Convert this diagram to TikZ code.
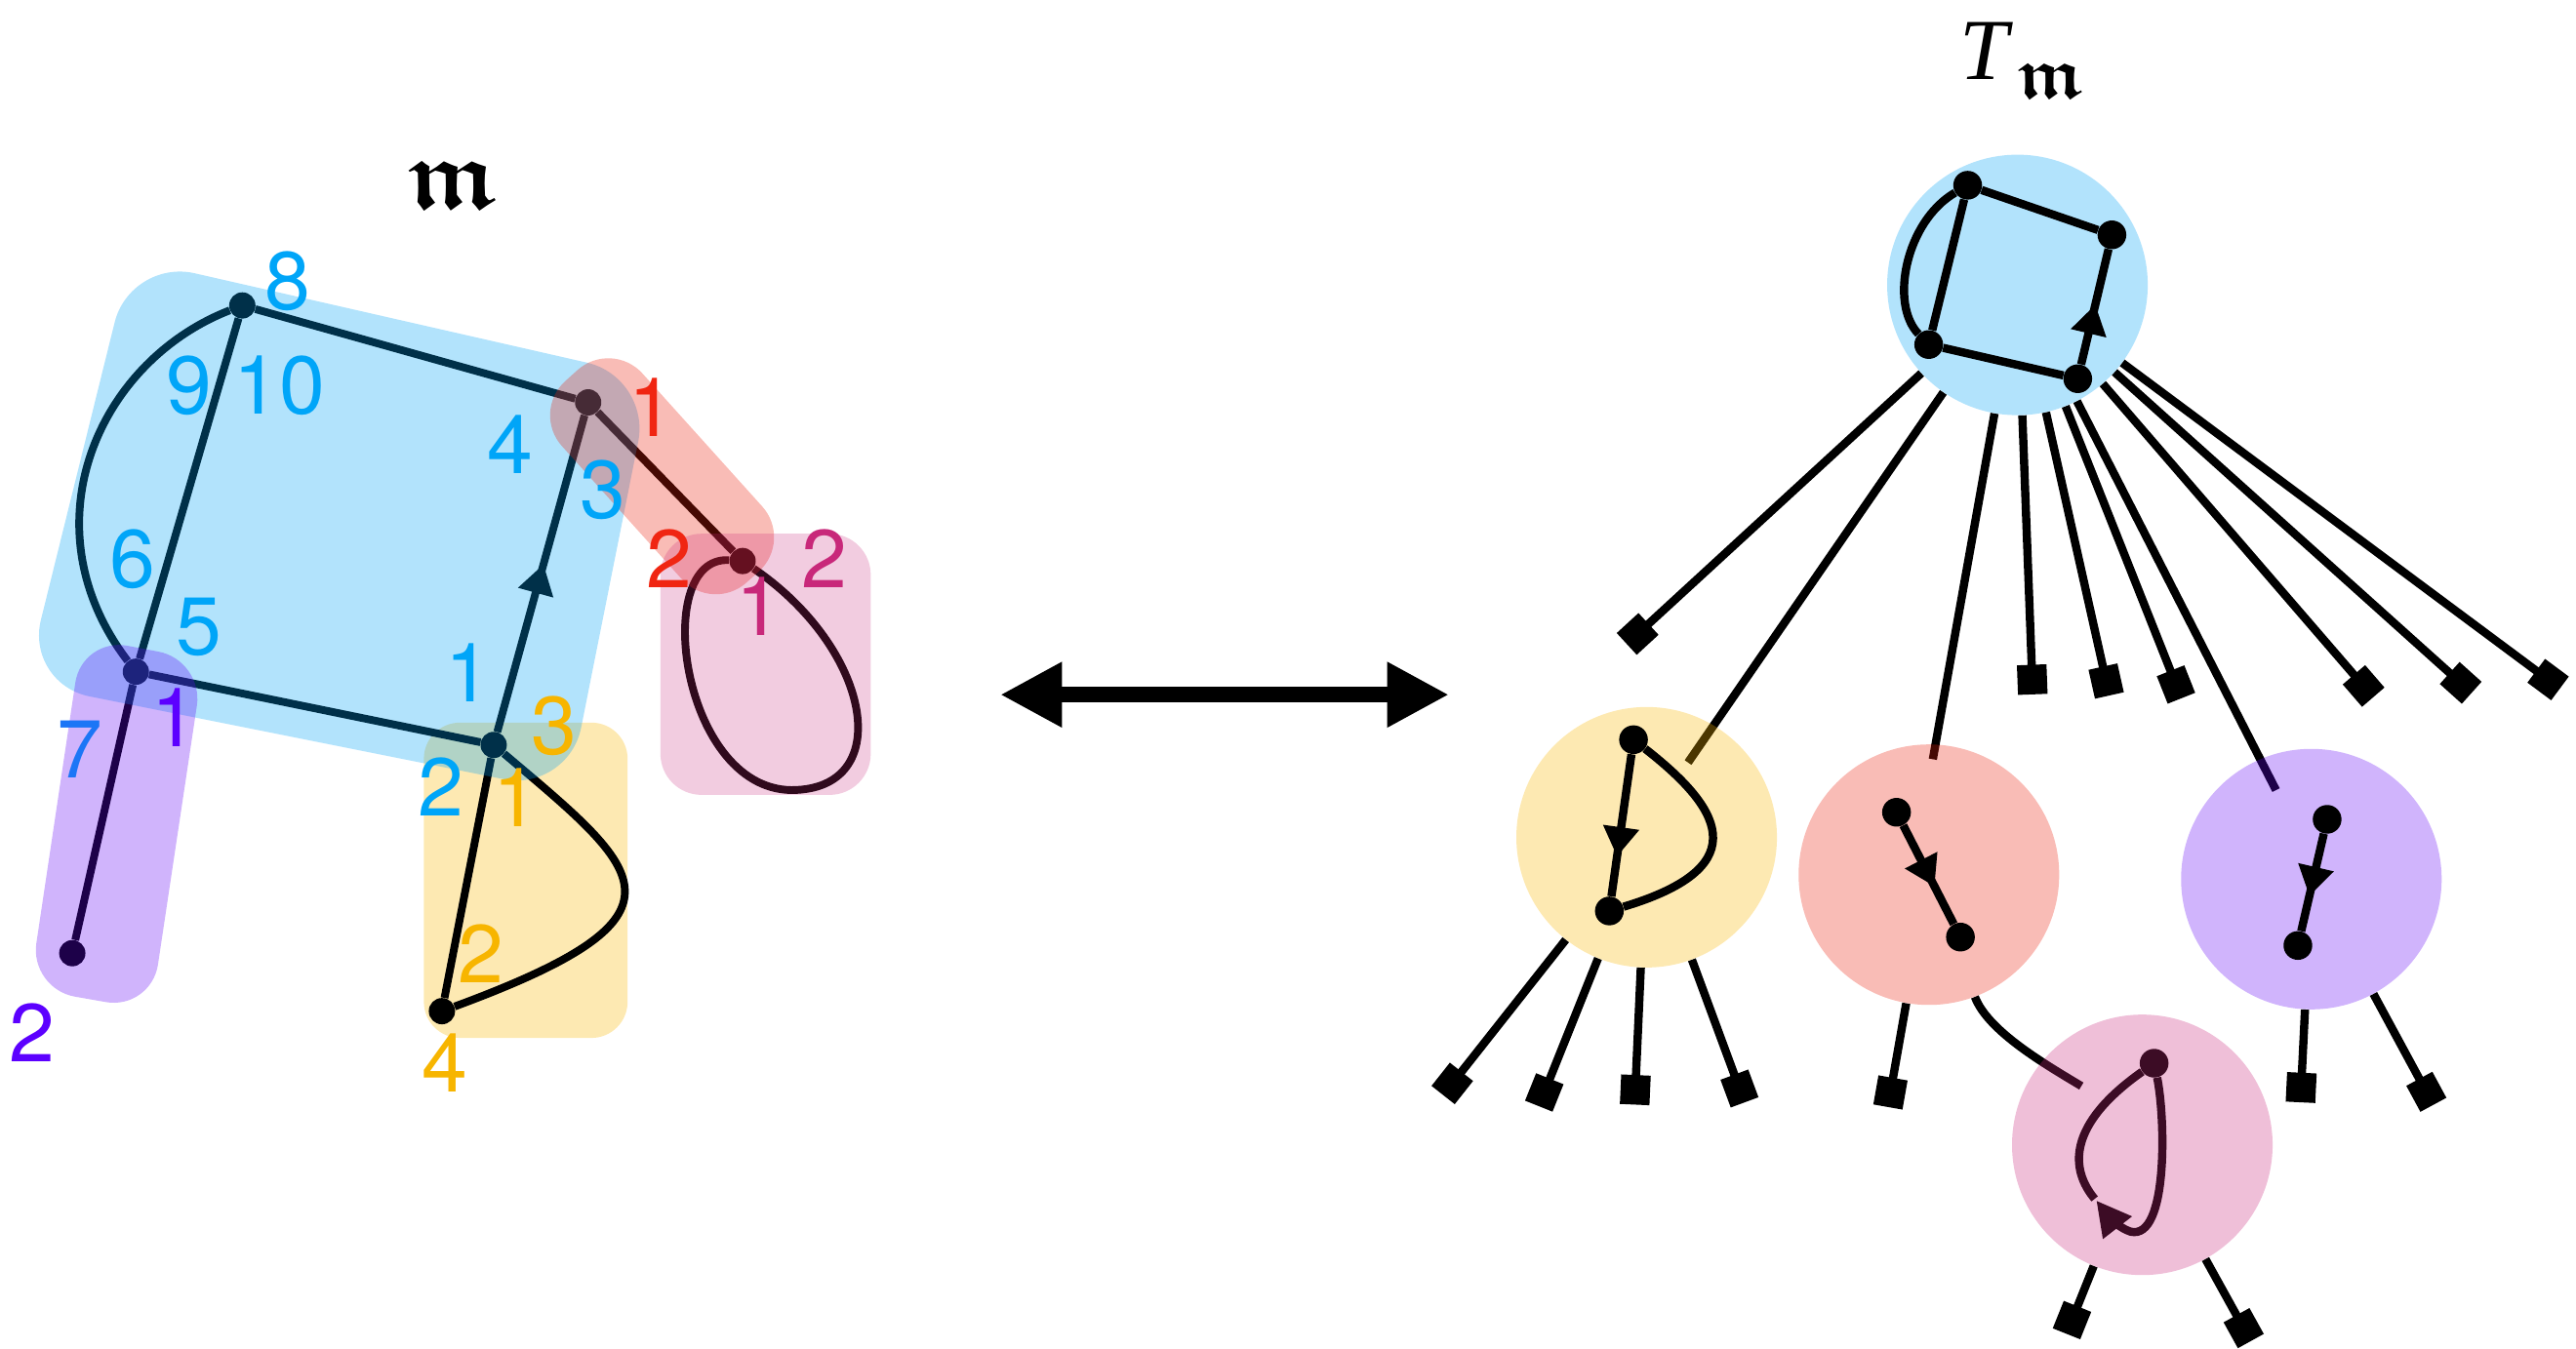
\documentclass[tikz,border=0pt]{standalone}
\usepackage{fontspec}
\setmainfont{TeX Gyre Heros}
\newfontfamily\timesf{Liberation Serif}
\DeclareFontFamily{U}{euf}{}
\DeclareFontShape{U}{euf}{m}{n}{<-> eufm10}{}
\DeclareFontShape{U}{euf}{b}{n}{<-> eufb10}{}
\usetikzlibrary{arrows.meta,decorations.markings}
\definecolor{cblue}{RGB}{0,162,245}
\definecolor{cyel}{RGB}{250,182,0}
\definecolor{cred}{RGB}{235,32,12}
\definecolor{cpink}{RGB}{202,42,125}
\definecolor{cpur}{RGB}{98,5,245}
\definecolor{lblue}{RGB}{0,165,248}
\definecolor{lmix}{RGB}{28,118,246}
\definecolor{lyel}{RGB}{247,181,0}
\definecolor{lred}{RGB}{240,38,18}
\definecolor{lpink}{RGB}{200,40,122}
\definecolor{lpur}{RGB}{92,0,255}
\begin{document}
\begin{tikzpicture}[x=1pt,y=-1pt,
  vtx/.style={circle,fill=black,inner sep=0pt,minimum size=16pt},
  tvtx/.style={circle,fill=black,inner sep=0pt,minimum size=17.5pt},
  edge/.style={line width=4.7pt},
  tedge/.style={line width=5pt},
  leaf/.style={line width=5pt,-{Square[length=18pt,width=18pt]},shorten >=-9pt},
  midarrow/.style={postaction={decorate},decoration={markings,mark=at position #1 with {\arrow{Triangle[length=18pt,width=21pt]}}}},
  midarrow/.default=0.55,
  tnode/.style={circle,inner sep=0pt,minimum size=158.6pt},
  lab/.style={inner sep=0pt,font=\fontsize{50}{50}\selectfont},
  boxfill/.style={fill=#1,fill opacity=0.3}
]
\useasboundingbox (0,0) rectangle (1568,821);

% ---------------- left map ----------------
\fill[boxfill=cyel,rounded corners=22pt] (258,440) rectangle (382,632);

\node[vtx] (A) at (147.5,186) {};
\node[vtx] (B) at (358,245) {};
\node[vtx] (C) at (82.7,409) {};
\node[vtx] (D) at (300.5,453.6) {};
\node[vtx] (E) at (452,341.6) {};
\node[vtx] (F) at (44,580.4) {};
\node[vtx] (G) at (269,615.7) {};

\draw[edge] (A) -- (B);
\draw[edge] (A) -- (C);
\draw[edge] (A) .. controls (60,220) and (15,320) .. (C);
\draw[edge] (C) -- (D);
\draw[edge,midarrow=0.53] (D) -- (B);
\draw[edge] (B) -- (E);
\draw[edge] (E) .. controls (395,338) and (415,485) .. (485,481) .. controls (545,478) and (530,395) .. (E);
\draw[edge] (C) -- (F);
\draw[edge] (D) -- (G);
\draw[edge] (D) .. controls (392,531) and (427.8,557.2) .. (G);

\fill[boxfill=cblue,rounded corners=40pt] (79.4,157.5) -- (396.3,229.7) -- (345.9,482.3) -- (15.3,416.2) -- cycle;
\fill[boxfill=cred,rounded corners=28pt] (323.3,250.8) -- (372.3,206.6) -- (482.7,329.2) -- (433.7,373.4) -- cycle;
\fill[fill=cpink,fill opacity=0.24,rounded corners=25pt] (402,325) rectangle (530,484);
\fill[boxfill=cpur,rounded corners=28pt] (50,388) -- (124,402) -- (92,615) -- (18,602) -- cycle;

% labels
\node[lab,text=lblue] (l8) at (175.4,171) {8};
\node[lab,text=lblue] (l9) at (115,235) {9};
\node[lab,text=lblue] (l10) at (170.2,235) {10};
\node[lab,text=lblue] (l6) at (80.8,340.2) {6};
\node[lab,text=lblue] (l5) at (121.2,382) {5};
\node[lab,text=lmix] (l7) at (48.9,456.4) {7};
\node[lab,text=lblue] (l4) at (310.4,270.7) {4};
\node[lab,text=lblue] (l3) at (367,298.2) {3};
\node[lab,text=lblue] (lb1) at (285,409.6) {1};
\node[lab,text=lblue] (lb2) at (268.2,479.1) {2};
\node[lab,text=lpur] (lu1) at (106,437) {1};
\node[lab,text=lpur] (lu2) at (19.7,628.5) {2};
\node[lab,text=lyel] (ly3) at (337,442) {3};
\node[lab,text=lyel] (ly1) at (314,485.6) {1};
\node[lab,text=lyel] (ly2) at (293,580.8) {2};
\node[lab,text=lyel] (ly4) at (270.8,647) {4};
\node[lab,text=lred] (lr1) at (396.7,248) {1};
\node[lab,text=lred] (lr2) at (407.5,340.2) {2};
\node[lab,text=lpink] (lp2) at (502,340.2) {2};
\node[lab,text=lpink] (lp1) at (462,369.3) {1};

\node[inner sep=0pt,anchor=base west,font=\fontsize{60}{60}\usefont{U}{euf}{b}{n}] (mlab) at (248,126.7) {m};

% ---------------- double arrow ----------------
\coordinate (arrL) at (608.8,423);
\coordinate (arrR) at (882,423);
\draw[line width=9.5pt,{Triangle[length=37.6pt,width=37.2pt]}-{Triangle[length=37.6pt,width=37.2pt]}] (arrL) -- (arrR);

% ---------------- tree ----------------
\node[inner sep=0pt,anchor=base west,font=\timesf\itshape\fontsize{53}{53}\selectfont] (tlabT) at (1193,48.5) {T};
\node[inner sep=0pt,anchor=base west,font=\fontsize{44}{44}\usefont{U}{euf}{b}{n}] (tlabm) at (1228,59.5) {m};

\node[tnode] (root) at (1228,173.5) {};
\node[tnode] (ycirc) at (1002.3,509.8) {};
\node[tnode] (rcirc) at (1174.1,532.6) {};
\node[tnode] (pcirc) at (1304,697.1) {};
\node[tnode] (ucirc) at (1406.9,535.3) {};

\coordinate (sqA) at (996.8,386);
\coordinate (yin) at (1027.5,464.3);
\coordinate (rin) at (1176.5,462.3);
\coordinate (sqB) at (1237,413.8);
\coordinate (sqC) at (1282,414.7);
\coordinate (sqD) at (1324.5,416.8);
\coordinate (uin) at (1385.4,481.1);
\coordinate (sqE) at (1438.7,417.7);
\coordinate (sqF) at (1497.8,415.8);
\coordinate (sqG) at (1551,413.8);
\coordinate (ysq1) at (884,659.7);
\coordinate (ysq2) at (940,665.2);
\coordinate (ysq3) at (995.4,663.6);
\coordinate (ysq4) at (1058.8,662.8);
\coordinate (rsq1) at (1150.7,665.2);
\coordinate (pin) at (1266.9,661.3);
\coordinate (psq1) at (1261.2,803.8);
\coordinate (psq2) at (1365.7,808.7);
\coordinate (usq1) at (1400.7,662.2);
\coordinate (usq2) at (1476.9,664.8);

\draw[leaf] (root) -- (sqA);
\draw[tedge] (root) -- (yin);
\draw[tedge] (root) -- (rin);
\draw[leaf] (root) -- (sqB);
\draw[leaf] (root) -- (sqC);
\draw[leaf] (root) -- (sqD);
\draw[tedge] (root) -- (uin);
\draw[leaf] (root) -- (sqE);
\draw[leaf] (root) -- (sqF);
\draw[leaf] (root) -- (sqG);
\draw[leaf] (ycirc) -- (ysq1);
\draw[leaf] (ycirc) -- (ysq2);
\draw[leaf] (ycirc) -- (ysq3);
\draw[leaf] (ycirc) -- (ysq4);
\draw[leaf] (rcirc) -- (rsq1);
\draw[tedge] (rcirc) .. controls (1210,628) and (1245.5,648.4) .. (pin);
\draw[leaf] (pcirc) -- (psq1);
\draw[leaf] (pcirc) -- (psq2);
\draw[leaf] (ucirc) -- (usq1);
\draw[leaf] (ucirc) -- (usq2);

% pink inner graph (under the disc)
\node[tvtx] (pv) at (1311.2,647.4) {};
\draw[tedge,-{Triangle[length=21pt,width=21pt]}] (pv) .. controls (1318,680) and (1320,755) .. (1297,750) .. controls (1290,748) and (1283,740) .. (1276,731);
\draw[tedge] (1275,730) .. controls (1260,712) and (1258,685) .. (pv);

% discs
\fill[boxfill=cblue] (root.center) circle[radius=79.3];
\fill[boxfill=cyel] (ycirc.center) circle[radius=79.3];
\fill[boxfill=cred] (rcirc.center) circle[radius=79.3];
\fill[boxfill=cpink] (pcirc.center) circle[radius=79.3];
\fill[boxfill=cpur] (ucirc.center) circle[radius=79.3];

% root inner graph
\node[tvtx] (ta) at (1197.7,112.8) {};
\node[tvtx] (tb) at (1285.5,143) {};
\node[tvtx] (tc) at (1174,209.8) {};
\node[tvtx] (td) at (1264.7,230.6) {};
\draw[tedge] (ta) -- (tb);
\draw[tedge] (ta) -- (tc);
\draw[tedge] (ta) .. controls (1160,135) and (1150,185) .. (tc);
\draw[tedge] (tc) -- (td);
\draw[tedge,midarrow=0.52] (td) -- (tb);

% yellow inner graph
\node[tvtx] (y1) at (994.3,450.4) {};
\node[tvtx] (y2) at (979.6,554.7) {};
\draw[tedge,midarrow=0.72] (y1) -- (y2);
\draw[tedge] (y1) .. controls (1045,490) and (1072,527) .. (y2);

% red inner graph
\node[tvtx] (r1) at (1154.4,494.6) {};
\node[tvtx] (r2) at (1193.3,570.6) {};
\draw[tedge,midarrow=0.62] (r1) -- (r2);

% purple inner graph
\node[tvtx] (u1) at (1416.5,498.9) {};
\node[tvtx] (u2) at (1398.7,575.7) {};
\draw[tedge,midarrow=0.64] (u1) -- (u2);
\end{tikzpicture}
\end{document}
